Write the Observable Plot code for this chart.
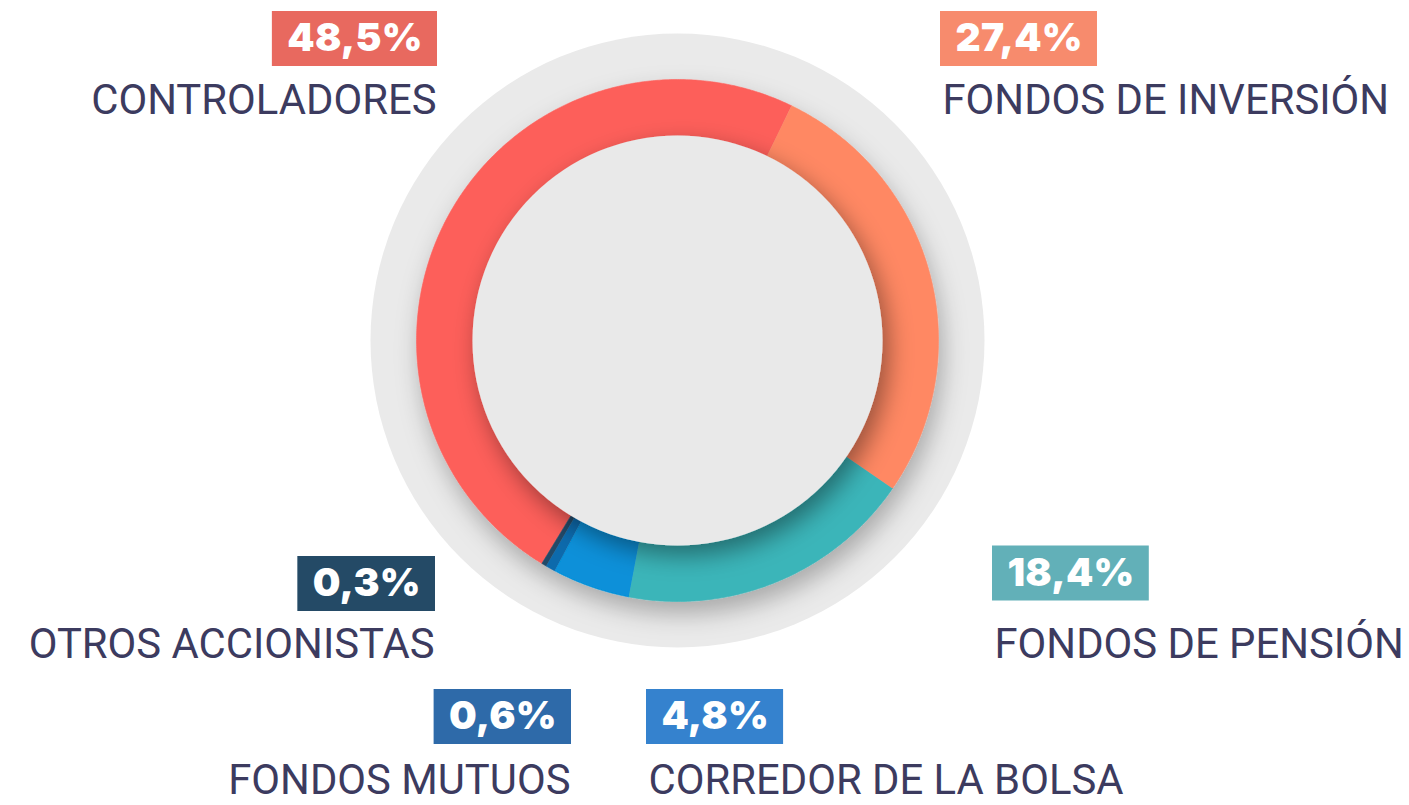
<!DOCTYPE html>
<html>
<head>
<meta charset="utf-8">
<script src="https://cdn.jsdelivr.net/npm/d3@7"></script>
<script src="https://cdn.jsdelivr.net/npm/@observablehq/plot@0.6"></script>
<style>
  html, body { margin: 0; padding: 0; background: #ffffff; }
  #chart { width: 1409px; height: 805px; }
</style>
</head>
<body>
<div id="chart"></div>
<script>
// ---- data ----
const categories = ["CONTROLADORES", "FONDOS DE INVERSIÓN", "FONDOS DE PENSIÓN", "CORREDOR DE LA BOLSA", "FONDOS MUTUOS", "OTROS ACCIONISTAS"];
const shares = [48.5, 27.4, 18.4, 4.8, 0.6, 0.3];

// ---- styles ----
const sliceColors = ["#FD5F5A", "#FF8864", "#3AB5B9", "#0790D9", "#0B6AAC", "#234A67"];
const boxColors = ["#E8695F", "#F78B6D", "#62B0B8", "#3582CE", "#2E6AA9", "#244A66"];

// ---- layout (pixel units relative to donut centre) ----
const W = 1409, H = 805, CX = 677, CY = 340;
const rBack = 307, rOuter = 261, rInner = 205;
const startDeg = -148.7; // clockwise from 12 o'clock
// label layout: anchor side, box edge x, percent centre y, name centre y (page px)
const labelLayout = [
  {anchor: "end",   edge: 437, pctY: 38.5,  nameY: 100},
  {anchor: "start", edge: 940, pctY: 38.5,  nameY: 100},
  {anchor: "start", edge: 992, pctY: 573,   nameY: 644},
  {anchor: "start", edge: 646, pctY: 716.5, nameY: 780},
  {anchor: "end",   edge: 571, pctY: 716.5, nameY: 780},
  {anchor: "end",   edge: 435, pctY: 583.5, nameY: 644}
];
const pctSize = 39, pctWeight = 900, pctSpacing = 0.2;
const pctFamily = "Inter, Roboto, sans-serif";
const nameFontSize = 41.8;
const pad = 15, boxH = 55;

// ---- slice geometry from data ----
const total = d3.sum(shares);
const slicePts = [];
let acc = 0;
categories.forEach((name, i) => {
  const a0 = (startDeg + acc / total * 360) * Math.PI / 180;
  acc += shares[i];
  const a1 = (startDeg + acc / total * 360) * Math.PI / 180;
  const n = Math.max(2, Math.ceil((a1 - a0) / (Math.PI / 360)));
  const pts = [];
  for (let k = 0; k <= n; k++) {
    const a = a0 + (a1 - a0) * k / n;
    pts.push({name, color: sliceColors[i], x: rOuter * Math.sin(a), y: -rOuter * Math.cos(a)});
  }
  for (let k = n; k >= 0; k--) {
    const a = a0 + (a1 - a0) * k / n;
    pts.push({name, color: sliceColors[i], x: rInner * Math.sin(a), y: -rInner * Math.cos(a)});
  }
  slicePts.push(...pts);
});

// ---- labels ----
const ctx = document.createElement("canvas").getContext("2d");
ctx.font = `${pctWeight} ${pctSize}px ${pctFamily}`;
const fmt = v => d3.format(".1f")(v).replace(".", ",") + "%";
const labels = categories.map((name, i) => {
  const L = labelLayout[i];
  const text = fmt(shares[i]);
  const tw = ctx.measureText(text).width + pctSpacing * (text.length - 1);
  const bw = tw + 2 * pad;
  const x1 = L.anchor === "end" ? L.edge - bw : L.edge;
  const x2 = x1 + bw;
  return {
    name, text, color: boxColors[i], anchor: L.anchor,
    bx1: x1 - CX, bx2: x2 - CX, by1: L.pctY - boxH / 2 - CY, by2: L.pctY + boxH / 2 - CY,
    px: (x1 + x2) / 2 - CX + pctSpacing / 2, py: L.pctY - CY,
    nx: (L.anchor === "end" ? L.edge - 1 : L.edge + 2) - CX, ny: L.nameY - CY
  };
});

const plot = Plot.plot({
  width: W, height: H,
  margin: 0,
  style: {background: "#ffffff", overflow: "visible"},
  x: {domain: [-CX, W - CX], range: [0, W], axis: null},
  y: {domain: [-CY, H - CY], range: [0, H], axis: null},
  color: {type: "identity"},
  marks: [
    Plot.dot([0], {x: () => 0, y: () => 0, r: rBack, fill: "#EAEAEA", stroke: null}),
    Plot.line(slicePts, {x: "x", y: "y", z: "name", fill: "color", stroke: "color", strokeWidth: 0.6, curve: "linear"}),
    Plot.dot([0], {x: () => 0, y: () => 0, r: rInner, fill: "#E9E9E9", stroke: null}),
    Plot.rect(labels, {x1: "bx1", x2: "bx2", y1: "by1", y2: "by2", fill: "color"}),
    Plot.text(labels, {x: "px", y: "py", text: "text", fill: "#ffffff", fontSize: pctSize, fontWeight: pctWeight, fontFamily: pctFamily, textAnchor: "middle", lineAnchor: "middle"}),
    Plot.text(labels, {x: "nx", y: "ny", text: "name", textAnchor: "end", fill: "#3C3B5F", fontSize: nameFontSize, fontFamily: "Roboto, Inter, sans-serif", lineAnchor: "middle", filter: d => d.anchor === "end"}),
    Plot.text(labels, {x: "nx", y: "ny", text: "name", textAnchor: "start", fill: "#3C3B5F", fontSize: nameFontSize, fontFamily: "Roboto, Inter, sans-serif", lineAnchor: "middle", filter: d => d.anchor === "start"})
  ]
});

// percent letter spacing
plot.querySelectorAll('g[aria-label="text"]')[0]?.setAttribute("letter-spacing", pctSpacing);

// drop shadows
const ns = "http://www.w3.org/2000/svg";
const defs = document.createElementNS(ns, "defs");
defs.innerHTML = `
  <filter id="shRing" x="-30%" y="-30%" width="160%" height="160%">
    <feDropShadow dx="4" dy="12" stdDeviation="12" flood-color="#000" flood-opacity="0.28"/>
  </filter>
  <filter id="shInner" x="-30%" y="-30%" width="160%" height="160%">
    <feDropShadow dx="6" dy="10" stdDeviation="12" flood-color="#000" flood-opacity="0.4"/>
  </filter>`;
plot.insertBefore(defs, plot.firstChild);
const dots = plot.querySelectorAll('g[aria-label="dot"]');
const lines = plot.querySelectorAll('g[aria-label="line"]');
if (lines[0]) lines[0].setAttribute("filter", "url(#shRing)");
if (dots[1]) dots[1].setAttribute("filter", "url(#shInner)");

document.getElementById("chart").appendChild(plot);
</script>
</body>
</html>
